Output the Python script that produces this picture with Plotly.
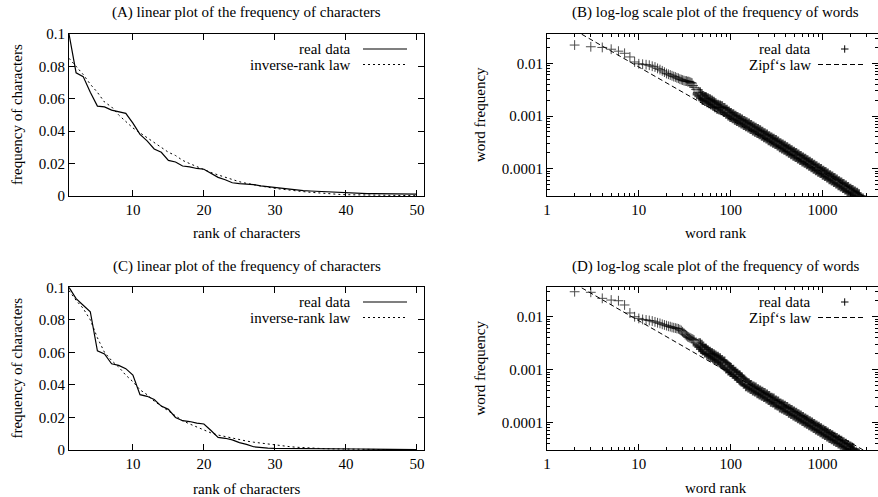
import plotly.graph_objects as go

W, H = 878, 497

# ---------------- data: panels (A) and (C), character frequency by rank ----------------
char_rank = list(range(1, 51))
a_real = [0.100, 0.076, 0.0737, 0.064, 0.0555, 0.055, 0.053, 0.0518, 0.051, 0.045,
          0.038, 0.034, 0.029, 0.027, 0.022, 0.021, 0.0185, 0.018, 0.017, 0.0165,
          0.014, 0.0115, 0.0100, 0.0082, 0.0076, 0.0073, 0.0070, 0.0062, 0.0057, 0.0050,
          0.0047, 0.0044, 0.0037, 0.0033, 0.0031, 0.0029, 0.0026, 0.0023, 0.0020, 0.0017,
          0.0016, 0.0016, 0.0015, 0.0015, 0.0014, 0.0014, 0.0013, 0.0013, 0.0012, 0.0012]
a_law = [0.085, 0.080, 0.075, 0.069, 0.064, 0.058, 0.055, 0.050, 0.046, 0.042,
         0.039, 0.036, 0.033, 0.030, 0.027, 0.025, 0.022, 0.020, 0.018, 0.016,
         0.0145, 0.013, 0.0115, 0.010, 0.0088, 0.0078, 0.0069, 0.0061, 0.0054, 0.0047,
         0.0041, 0.0036, 0.0031, 0.0027, 0.0023, 0.0019, 0.0016, 0.0013, 0.0010, 0.0008,
         0.0007, 0.0006, 0.0005, 0.0005, 0.0004, 0.0004, 0.0003, 0.0003, 0.0002, 0.0002]
c_real = [0.100, 0.093, 0.089, 0.085, 0.061, 0.059, 0.053, 0.052, 0.050, 0.046,
          0.034, 0.033, 0.031, 0.027, 0.025, 0.020, 0.018, 0.0175, 0.0165, 0.016,
          0.012, 0.0078, 0.0072, 0.0062, 0.0045, 0.0035, 0.0020, 0.0015, 0.0012, 0.0010,
          0.0010, 0.0010, 0.0009, 0.0009, 0.0009, 0.0008, 0.0008, 0.0008, 0.0007, 0.0007,
          0.0006, 0.0006, 0.0005, 0.0005, 0.0004, 0.0004, 0.0003, 0.0003, 0.0002, 0.0002]
c_law = [0.098, 0.092, 0.087, 0.080, 0.069, 0.060, 0.055, 0.051, 0.046, 0.042,
         0.037, 0.034, 0.030, 0.027, 0.024, 0.021, 0.018, 0.016, 0.014, 0.012,
         0.0105, 0.0092, 0.0082, 0.0072, 0.0063, 0.0055, 0.0048, 0.0042, 0.0036, 0.0031,
         0.0026, 0.0021, 0.0017, 0.0014, 0.0011, 0.0009, 0.0008, 0.0007, 0.0006, 0.0005,
         0.0004, 0.0004, 0.0003, 0.0003, 0.0002, 0.0002, 0.0002, 0.0001, 0.0001, 0.0001]

# ---------------- data: panels (B) and (D), word frequency by rank ----------------
b_rank = list(range(2, 41)) + [
    42, 44, 46, 48, 50, 53, 56, 59, 62, 65, 68, 72, 76, 80, 85, 90, 95, 100,
    106, 112, 118, 125, 132, 140, 148, 157, 166, 176, 186, 197, 208, 220,
    233, 247, 261, 276, 292, 309, 327, 346, 366, 387, 410, 434, 459, 486,
    514, 544, 576, 609, 645, 682, 722, 764, 808, 855, 905, 958, 1014, 1073,
    1135, 1201, 1271, 1345, 1423, 1506, 1594, 1687, 1785, 1889, 1999, 2115,
    2238, 2368, 2480]
b_freq = [0.0222, 0.0206, 0.0200, 0.0185, 0.0170, 0.0155, 0.0132, 0.0106, 0.0098, 0.0096,
          0.0094, 0.0092, 0.0088, 0.0085, 0.0080, 0.0076, 0.0072, 0.0068, 0.0064, 0.0062,
          0.0060, 0.0058, 0.0056, 0.0055, 0.0053, 0.0052, 0.0050, 0.0049, 0.0048, 0.0047,
          0.0046, 0.0046, 0.0045, 0.0045, 0.0044, 0.0043, 0.0042, 0.0038, 0.0035,
          0.0032, 0.0028, 0.0026, 0.0024, 0.0022, 0.0021, 0.0020, 0.0019, 0.0018, 0.0017,
          0.0016, 0.0015, 0.00145, 0.0014, 0.0013, 0.0012, 0.00112, 0.00105,
          0.00099, 0.00093, 0.00088, 0.00083, 0.00079, 0.00074, 0.00070, 0.00066, 0.00062,
          0.00058, 0.00055, 0.00052, 0.00049, 0.00046,
          0.00043, 0.00041, 0.00038, 0.00036, 0.00034, 0.00032, 0.00030, 0.00028, 0.000265,
          0.00025, 0.000235, 0.00022, 0.000205, 0.000193,
          0.000182, 0.000171, 0.000160, 0.000150, 0.000141, 0.000132, 0.000124, 0.000116,
          0.000109, 0.000102, 0.000096, 0.000090, 0.000084, 0.000079,
          0.000074, 0.000069, 0.000065, 0.000061, 0.000057, 0.000053, 0.000050, 0.000047,
          0.000044, 0.000041, 0.000038, 0.000036, 0.000034, 0.000032, 0.000030]

d_rank = list(range(2, 41)) + [
    42, 44, 46, 48, 50, 53, 56, 59, 62, 65, 68, 72, 76, 80, 85, 90, 95, 100,
    106, 112, 118, 125, 132, 140, 148, 157, 166, 176, 186, 197, 208, 220,
    233, 247, 261, 276, 292, 309, 327, 346, 366, 387, 410, 434, 459, 486,
    514, 544, 576, 609, 645, 682, 722, 764, 808, 855, 905, 958, 1014, 1073,
    1135, 1201, 1271, 1345, 1423, 1506, 1594, 1687, 1785, 1889, 1999, 2080, 2150]
d_freq = [0.0297, 0.0290, 0.0223, 0.0207, 0.0201, 0.0167, 0.0118, 0.0100, 0.0093, 0.0089,
          0.0087, 0.0085, 0.0083, 0.0080, 0.0077, 0.0075, 0.0072, 0.0070, 0.0068, 0.0066,
          0.0065, 0.0063, 0.0062, 0.0061, 0.0060, 0.0059, 0.0057, 0.0055, 0.0052, 0.0049,
          0.0046, 0.0044, 0.0042, 0.0041, 0.0040, 0.0039, 0.0038, 0.0037, 0.0036,
          0.0033, 0.0031, 0.0029, 0.0027, 0.0025, 0.0023, 0.0021, 0.0020, 0.0019, 0.0018,
          0.0017, 0.0016, 0.0015, 0.0014, 0.0013, 0.00115, 0.00105, 0.00098,
          0.00091, 0.00084, 0.00077, 0.00071, 0.00065, 0.00059, 0.00053, 0.00050, 0.00047,
          0.00044, 0.00042, 0.00039, 0.00037, 0.00035,
          0.00033, 0.00031, 0.00029, 0.00027, 0.00026, 0.00024, 0.00023, 0.00021, 0.00020,
          0.00019, 0.00018, 0.000167, 0.000158, 0.000148,
          0.000140, 0.000131, 0.000124, 0.000116, 0.000109, 0.000103, 0.0000967, 0.0000912,
          0.0000859, 0.0000807, 0.0000759, 0.0000714, 0.0000671, 0.0000631,
          0.0000594, 0.0000558, 0.0000527, 0.0000495, 0.0000467, 0.0000439, 0.0000413,
          0.0000388, 0.0000365, 0.0000344, 0.0000323, 0.0000310, 0.0000300]

zipf_rank = [1, 10, 100, 1000, 4000]
b_zipf = [0.085, 0.0085, 0.00085, 0.000085, 0.0000213]
d_zipf = [0.084, 0.0084, 0.00084, 0.000084, 0.0000210]

titles = ["(A) linear plot of the frequency of characters",
          "(B) log-log scale plot of the frequency of words",
          "(C) linear plot of the frequency of characters",
          "(D) log-log scale plot of the frequency of words"]
char_xlabel = "rank of characters"
char_ylabel = "frequency of characters"
word_xlabel = "word rank"
word_ylabel = "word frequency"
lin_xticks = [10, 20, 30, 40, 50]
lin_yticks = [0, 0.02, 0.04, 0.06, 0.08, 0.1]
lin_yticktext = ["0", "0.02", "0.04", "0.06", "0.08", "0.1"]
log_xticks = [1, 10, 100, 1000]
log_xticktext = ["1", "10", "100", "1000"]
log_yticks = [0.0001, 0.001, 0.01]
log_yticktext = ["0.0001", "0.001", "0.01"]

# ---------------- layout helpers ----------------
FONT = "Liberation Serif"
FS = 15


def PX(x):
    return x / W


def PY(y):
    return 1 - y / H


L_LEFT, L_RIGHT = 69, 424
R_LEFT = 547
TOP1, BOT1 = 34, 196
TOP2, BOT2 = 287.3, 450

log_minor_x = [m * 10 ** k for k in range(0, 4) for m in range(2, 10)]
log_minor_y = [m * 10 ** k for k in range(-5, -1) for m in range(2, 10)]

common = dict(showline=True, mirror="ticks", linecolor="black", linewidth=1,
              ticks="inside", tickcolor="black", tickwidth=1, showgrid=False,
              zeroline=False, automargin=False,
              tickfont=dict(family=FONT, size=FS, color="black"))


def lin_x(dom, anchor):
    return dict(common, domain=dom, anchor=anchor, range=[1, 51], tickmode="array",
                tickvals=lin_xticks, ticklen=6)


def lin_y(dom, anchor):
    return dict(common, domain=dom, anchor=anchor, range=[0, 0.1], tickmode="array",
                tickvals=lin_yticks, ticktext=lin_yticktext, ticklen=6)


def log_x(dom, anchor):
    return dict(common, type="log", domain=dom, anchor=anchor, range=[0, 3.605],
                tickmode="array", tickvals=log_xticks, ticktext=log_xticktext, ticklen=6,
                minor=dict(tickmode="array", tickvals=log_minor_x, ticks="inside",
                           ticklen=3, tickcolor="black", tickwidth=1, showgrid=False))


def log_y(dom, anchor, lo, hi):
    return dict(common, type="log", domain=dom, anchor=anchor, range=[lo, hi],
                tickmode="array", tickvals=log_yticks, ticktext=log_yticktext, ticklen=6,
                minor=dict(tickmode="array", tickvals=log_minor_y, ticks="inside",
                           ticklen=3, tickcolor="black", tickwidth=1, showgrid=False))


def marker_for(ranks):
    # thin crosses where the points stand apart, heavier strokes where they pile up
    return dict(symbol="cross-thin", color="black",
                size=[7 if r <= 45 else 10 for r in ranks],
                line=dict(color="black", width=[1 if r <= 45 else 2.6 for r in ranks]))


fig = go.Figure()

# (A)
fig.add_trace(go.Scatter(x=char_rank, y=a_real, mode="lines", xaxis="x", yaxis="y",
                         line=dict(color="black", width=1.2), showlegend=False))
fig.add_trace(go.Scatter(x=char_rank, y=a_law, mode="lines", xaxis="x", yaxis="y",
                         line=dict(color="black", width=1, dash="2px,3px"), showlegend=False))
# (B)
fig.add_trace(go.Scatter(x=b_rank, y=b_freq, mode="markers", xaxis="x2", yaxis="y2",
                         marker=marker_for(b_rank), showlegend=False))
fig.add_trace(go.Scatter(x=zipf_rank, y=b_zipf, mode="lines", xaxis="x2", yaxis="y2",
                         line=dict(color="black", width=1, dash="5px,3px"), showlegend=False))
# (C)
fig.add_trace(go.Scatter(x=char_rank, y=c_real, mode="lines", xaxis="x3", yaxis="y3",
                         line=dict(color="black", width=1.2), showlegend=False))
fig.add_trace(go.Scatter(x=char_rank, y=c_law, mode="lines", xaxis="x3", yaxis="y3",
                         line=dict(color="black", width=1, dash="2px,3px"), showlegend=False))
# (D)
fig.add_trace(go.Scatter(x=d_rank, y=d_freq, mode="markers", xaxis="x4", yaxis="y4",
                         marker=marker_for(d_rank), showlegend=False))
fig.add_trace(go.Scatter(x=zipf_rank, y=d_zipf, mode="lines", xaxis="x4", yaxis="y4",
                         line=dict(color="black", width=1, dash="5px,3px"), showlegend=False))

xdomL = [PX(L_LEFT), PX(L_RIGHT)]
xdomR = [PX(R_LEFT), 1.0]
ydom1 = [PY(BOT1), PY(TOP1)]
ydom2 = [PY(BOT2), PY(TOP2)]

fig.update_layout(
    template="none",
    width=W, height=H, autosize=False,
    margin=dict(l=0, r=0, t=0, b=0, pad=0, autoexpand=False),
    paper_bgcolor="white", plot_bgcolor="white",
    font=dict(family=FONT, size=FS, color="black"),
    xaxis=lin_x(xdomL, "y"), yaxis=lin_y(ydom1, "x"),
    xaxis2=log_x(xdomR, "y2"), yaxis2=log_y(ydom1, "x2", -4.518, -1.444),
    xaxis3=lin_x(xdomL, "y3"), yaxis3=lin_y(ydom2, "x3"),
    xaxis4=log_x(xdomR, "y4"), yaxis4=log_y(ydom2, "x4", -4.52, -1.443),
    showlegend=False,
)

ann = []


def text(x, y, s, xanchor="center", angle=0):
    ann.append(dict(x=PX(x), y=PY(y), xref="paper", yref="paper", text=s, showarrow=False,
                    xanchor=xanchor, yanchor="middle", textangle=angle,
                    font=dict(family=FONT, size=FS, color="black")))


# titles
text(246.5, 12, titles[0])
text(715.5, 12, titles[1])
text(246.5, 266, titles[2])
text(715.5, 266, titles[3])
# axis titles
text(246.5, 233, char_xlabel)
text(246.5, 489, char_xlabel)
text(715.5, 233, word_xlabel)
text(715.5, 488, word_xlabel)
text(17, 115, char_ylabel, angle=-90)
text(17, 368.6, char_ylabel, angle=-90)
text(480, 115, word_ylabel, angle=-90)
text(480, 368.6, word_ylabel, angle=-90)

shapes = []


def seg(x0, y0, x1, y1, dash="solid", width=1.0):
    shapes.append(dict(type="line", xref="paper", yref="paper", x0=PX(x0), y0=PY(y0),
                       x1=PX(x1), y1=PY(y1), line=dict(color="black", width=width, dash=dash)))


# legends for (A) and (C)
for off in (0, 253):
    text(352.7, 49 + off, "real data", xanchor="right")
    text(352.7, 65 + off, "inverse-rank law", xanchor="right")
    seg(363, 49 + off, 407, 49 + off, width=1.2)
    seg(363, 64.5 + off, 407, 64.5 + off, dash="2px,3px")

# legends for (B) and (D)
for off in (0, 253):
    text(813, 49 + off, "real data", xanchor="right")
    text(813, 65 + off, "Zipf\u2018s law", xanchor="right")
    seg(841, 49 + off, 848.5, 49 + off, width=1.0)
    seg(844.7, 45.3 + off, 844.7, 52.7 + off, width=1.0)
    seg(818, 64.5 + off, 866, 64.5 + off, dash="5px,3px")

fig.update_layout(annotations=ann, shapes=shapes)

fig.write_html("out.html", config={"displayModeBar": False},
               post_script="document.body.style.margin='0';document.body.style.overflow='hidden';")
